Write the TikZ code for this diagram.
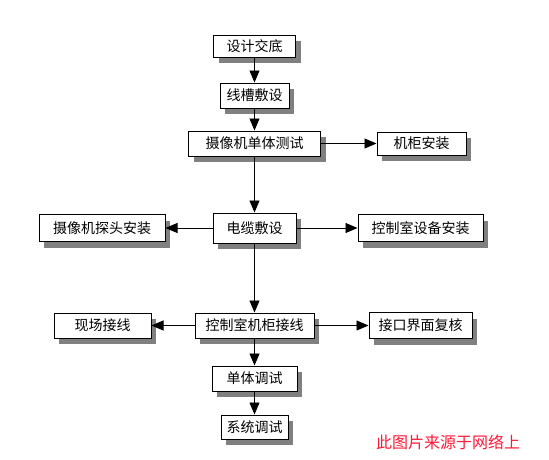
\documentclass[tikz,border=0pt]{standalone}
\usepackage{fontspec}
\setmainfont{Noto Sans CJK SC}
\usetikzlibrary{arrows.meta,shadows}
\definecolor{shd}{RGB}{128,128,128}
\definecolor{wm}{RGB}{255,25,55}
\begin{document}
\begin{tikzpicture}[x=1pt,y=-1pt,
  box/.style={draw=black,line width=1pt,fill=white,inner sep=0pt,
    font=\fontsize{14}{15}\selectfont,
    drop shadow={shadow xshift=5pt,shadow yshift=-6pt,fill=shd,opacity=1}},
  conn/.style={draw=black,line width=0.9pt,-{Triangle[width=10pt,length=12pt]}}]
\useasboundingbox[fill=white] (0,0) rectangle (549,459);
\node[box,minimum width=82pt,minimum height=22pt] (b1) at (254.5,46) {设计交底};
\node[box,minimum width=69pt,minimum height=25pt] (b2) at (254.5,95.5) {线槽敷设};
\node[box,minimum width=132pt,minimum height=25pt] (b3) at (254.5,143.5) {摄像机单体测试};
\node[box,minimum width=89pt,minimum height=23pt] (b4) at (421.5,143.5) {机柜安装};
\node[box,minimum width=83pt,minimum height=30pt] (b5) at (254.5,228) {电缆敷设};
\node[box,minimum width=126pt,minimum height=27pt] (b6) at (102,228) {摄像机探头安装};
\node[box,minimum width=125pt,minimum height=27pt] (b7) at (420.5,228) {控制室设备安装};
\node[box,minimum width=119pt,minimum height=25pt] (b8) at (254.5,325.5) {控制室机柜接线};
\node[box,minimum width=97pt,minimum height=25pt] (b9) at (102.5,325.5) {现场接线};
\node[box,minimum width=103pt,minimum height=26pt] (b10) at (420.5,325.5) {接口界面复核};
\node[box,minimum width=85pt,minimum height=25pt] (b11) at (254.5,378.5) {单体调试};
\node[box,minimum width=67pt,minimum height=24pt] (b12) at (254.5,427) {系统调试};
\draw[conn] (b1) -- (b2);
\draw[conn] (b2) -- (b3);
\draw[conn] (b3) -- (b4);
\draw[conn] (b3) -- (b5);
\draw[conn] (b5) -- (b6);
\draw[conn] (b5) -- (b7);
\draw[conn] (b5) -- (b8);
\draw[conn] (b8) -- (b9);
\draw[conn] (b8) -- (b10);
\draw[conn] (b8) -- (b11);
\draw[conn] (b11) -- (b12);
\node[text=wm,font=\fontsize{16}{17}\selectfont,inner sep=0pt] (wmk) at (448,442) {此图片来源于网络上};
\end{tikzpicture}
\end{document}
